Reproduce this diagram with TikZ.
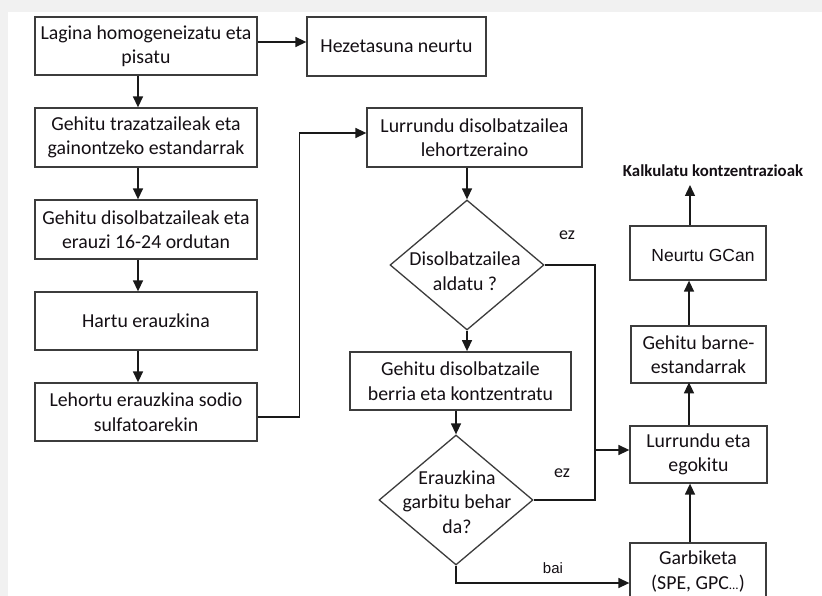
\documentclass[tikz,border=0pt]{standalone}
\usepackage{fontspec}
\setmainfont{Carlito}
\newfontfamily\arialfont{Liberation Sans}
\usetikzlibrary{arrows.meta,shapes.geometric,calc}
\definecolor{bggray}{RGB}{241,241,241}
\definecolor{edge}{RGB}{60,60,60}
\definecolor{wire}{RGB}{25,25,25}
\definecolor{ink}{RGB}{20,15,20}

\begin{document}
\begin{tikzpicture}[x=1pt,y=-1pt,
  box/.style={draw=edge, line width=1.3pt, rectangle, inner sep=0pt,
    align=center, text=ink, font=\fontsize{19.8}{24.5}\selectfont},
  dia/.style={draw=edge, line width=1.3pt, diamond, inner sep=0pt,
    minimum width=154pt, minimum height=130pt},
  txt/.style={align=center, text=ink, inner sep=0pt,
    font=\fontsize{19.8}{24.5}\selectfont},
  conn/.style={draw=wire, line width=1.4pt},
  arr/.style={conn, -{Triangle[length=11pt,width=10pt]}},
  lbl/.style={inner sep=0pt, text=ink, font=\fontsize{18}{20}\selectfont}]

\useasboundingbox (0,0) rectangle (822,596);
\clip (0,0) rectangle (822,596);
\fill[bggray] (0,0) rectangle (822,596);
\fill[white] (8,12) rectangle (822,596);

% left column
\node[box, minimum width=222pt, minimum height=58pt] (b1) at (146,46)
  {Lagina homogeneizatu eta\\pisatu};
\node[box, minimum width=179pt, minimum height=59pt] (hz) at (396.5,46.5)
  {Hezetasuna neurtu};
\node[box, minimum width=222pt, minimum height=59pt] (b2) at (146,137.5)
  {Gehitu trazatzaileak eta\\gainontzeko estandarrak};
\node[box, minimum width=222pt, minimum height=59pt] (b3) at (146,229.5)
  {Gehitu disolbatzaileak eta\\erauzi 16-24 ordutan};
\node[box, minimum width=222pt, minimum height=58pt] (b4) at (146,321)
  {Hartu erauzkina};
\node[box, minimum width=222pt, minimum height=58pt] (b5) at (146,412)
  {Lehortu erauzkina sodio\\sulfatoarekin};

% middle column
\node[box, minimum width=215pt, minimum height=59pt] (lr) at (474.5,137.5)
  {Lurrundu disolbatzailea\\lehortzeraino};
\node[dia] (d1) at (467,265) {};
\node[txt] at (465,271) {Disolbatzailea\\aldatu ?};
\node[box, line width=1.8pt, minimum width=221pt, minimum height=58pt] (b6) at (460.5,381)
  {Gehitu disolbatzaile\\berria eta kontzentratu};
\node[dia] (d2) at (456,500) {};
\node[txt] at (457,502) {Erauzkina\\garbitu behar\\da?};

% right column
\node[box, minimum width=136pt, minimum height=57pt] (gb) at (698,571.5)
  {Garbiketa\\(SPE, GPC{\fontsize{13}{14}\selectfont...})};
\node[box, minimum width=137pt, minimum height=57pt] (r1) at (698.5,454.5)
  {Lurrundu eta\\egokitu};
\node[box, minimum width=135pt, minimum height=57pt] (r2) at (698.5,354.5)
  {Gehitu barne-\\estandarrak};
\node[box, minimum width=136pt, minimum height=54pt] (r3) at (698,253) {};
\node[txt, font=\arialfont\fontsize{17.5}{20}\selectfont] at (703,255) {Neurtu GCan};
\node[txt, font=\bfseries\fontsize{16.8}{18}\selectfont] (kk) at (713,171)
  {Kalkulatu kontzentrazioak};
\coordinate (kkbase) at (690,185);
\coordinate (jn) at (595,450);

% connectors, left column
\draw[arr] ($(b1.east)+(0,-4)$) -- ($(hz.west)+(0,-4.5)$);
\draw[arr] ($(b1.south)+(-8,0)$) -- ($(b2.north)+(-8,0)$);
\draw[arr] ($(b2.south)+(-8,0)$) -- ($(b3.north)+(-8,0)$);
\draw[arr] ($(b3.south)+(-8,0)$) -- ($(b4.north)+(-8,0)$);
\draw[arr] ($(b4.south)+(-8,0)$) -- ($(b5.north)+(-8,0)$);
\draw[arr] ($(b5.east)+(0,5)$) -- ++(42,0) |- ($(lr.west)+(0,-4.5)$);

% connectors, middle column
\draw[arr] (lr.south -| d1.north) -- (d1.north);
\draw[arr] (d1.south) -- (d1.south |- b6.north);
\draw[arr] (b6.south -| d2.north) -- (d2.north);
\draw[arr] (d1.east) -| (jn) -- ($(r1.west)+(0,-4.5)$);
\draw[conn] (d2.east) -| (jn);
\draw[arr] (d2.south) |- ($(gb.west)+(0,11.5)$);

% connectors, right column
\draw[arr] ($(gb.north)+(-8,0)$) -- ($(r1.south)+(-8.5,0)$);
\draw[arr] ($(r1.north)+(-9.5,0)$) -- ($(r2.north)+(-9.5,57)$);
\draw[arr] ($(r2.north)+(-9.5,0)$) -- ($(r3.south)+(-9,0)$);
\draw[arr] ($(r3.north)+(-8,0)$) -- (kkbase);

% branch labels
\node[lbl] at (567,235) {ez};
\node[lbl] at (562,473) {ez};
\node[lbl, font=\arialfont\fontsize{15}{17}\selectfont] at (553,568) {bai};
\end{tikzpicture}
\end{document}
